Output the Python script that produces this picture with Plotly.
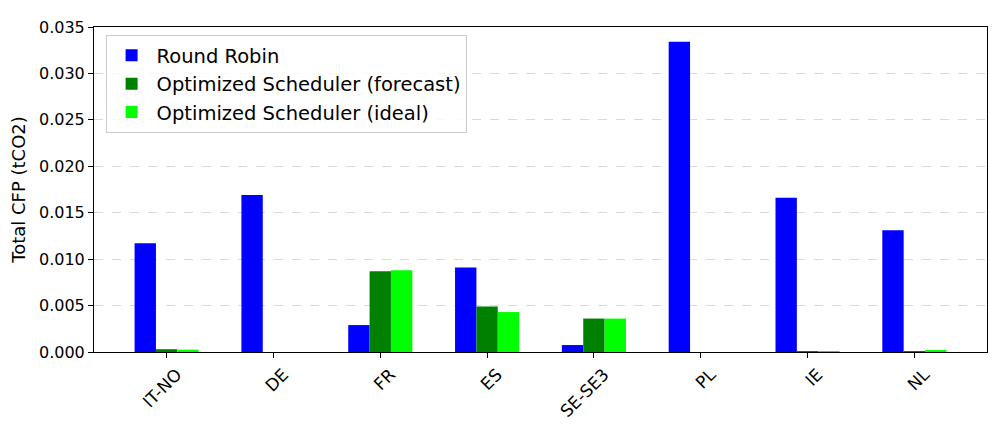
import plotly.graph_objects as go

regions = ["IT-NO", "DE", "FR", "ES", "SE-SE3", "PL", "IE", "NL"]
round_robin = [0.0117, 0.0169, 0.0029, 0.0091, 0.00075, 0.0334, 0.0166, 0.0131]
opt_forecast = [0.0003, 0.0, 0.0087, 0.0049, 0.0036, 0.0, 0.00002, 0.00002]
opt_ideal = [0.00025, 0.0, 0.0088, 0.0043, 0.0036, 0.0, 0.0001, 0.0002]
y_ticks = [0.0, 0.005, 0.010, 0.015, 0.020, 0.025, 0.030, 0.035]

series = [
    ("Round Robin", round_robin, "#0000ff"),
    ("Optimized Scheduler (forecast)", opt_forecast, "#008000"),
    ("Optimized Scheduler (ideal)", opt_ideal, "#00ff00"),
]

fig = go.Figure()
for name, vals, col in series:
    fig.add_trace(go.Bar(x=regions, y=vals, name=name, marker_color=col,
                         marker_line_width=0))

font = "DejaVu Sans, Arial, sans-serif"
fig.update_layout(
    width=997, height=427,
    margin=dict(l=82, r=18, t=10, b=83),
    barmode="group", bargap=0.4, bargroupgap=0,
    plot_bgcolor="white", paper_bgcolor="white",
    font=dict(family=font, size=16, color="black"),
    legend=dict(x=0.013, y=0.975, xanchor="left", yanchor="top",
                bgcolor="rgba(255,255,255,0.8)", bordercolor="#cccccc", borderwidth=1,
                font=dict(size=19.5), itemwidth=40, tracegroupgap=0),
    showlegend=True,
)
fig.update_xaxes(
    range=[-0.68, 7.68], showline=True, linecolor="black", linewidth=1, mirror=True,
    ticks="outside", ticklen=5, tickcolor="black", tickangle=-45,
    tickfont=dict(size=17), showgrid=False, ticklabelshift=10,
)
fig.update_yaxes(
    range=[0, 0.035], tickvals=y_ticks, tickformat=".3f",
    showline=True, linecolor="black", linewidth=1, mirror=True,
    ticks="outside", ticklen=5, tickcolor="black",
    showgrid=True, gridcolor="#d9d9d9", griddash="dash", gridwidth=1,
    zeroline=False, tickfont=dict(size=16),
    title=dict(text="Total CFP (tCO2)", font=dict(size=18), standoff=8),
)
fig.write_html("out.html")
